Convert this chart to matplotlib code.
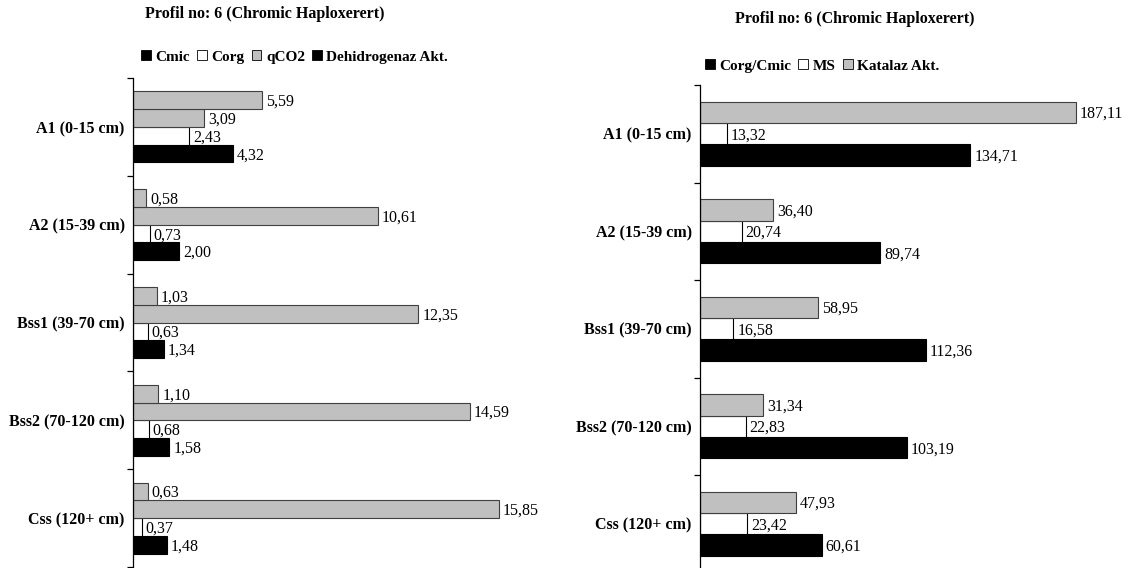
import matplotlib
matplotlib.use("Agg")
import matplotlib.pyplot as plt
from matplotlib.patches import Patch
import numpy as np

plt.rcParams['font.family'] = ['Liberation Serif', 'DejaVu Serif']

horizons = ["A1 (0-15 cm)", "A2 (15-39 cm)", "Bss1 (39-70 cm)",
            "Bss2 (70-120 cm)", "Css (120+ cm)"]

# Left panel series (drawn bottom-up within each horizon)
cmic = [4.32, 2.00, 1.34, 1.58, 1.48]
corg = [2.43, 0.73, 0.63, 0.68, 0.37]
qco2 = [3.09, 10.61, 12.35, 14.59, 15.85]
dehidrogenaz = [5.59, 0.58, 1.03, 1.10, 0.63]

# Right panel series
corg_cmic = [134.71, 89.74, 112.36, 103.19, 60.61]
ms = [13.32, 20.74, 16.58, 22.83, 23.42]
katalaz = [187.11, 36.40, 58.95, 31.34, 47.93]

title = "Profil no: 6 (Chromic Haploxerert)"
GRAY = "#c0c0c0"

W, H = 1131, 568
fig = plt.figure(figsize=(W / 100, H / 100), dpi=100)


def fmt(v):
    return f"{v:.2f}".replace(".", ",")


def panel(rect, xmax, series, colors, bar_h):
    ax = fig.add_axes(rect)
    n = len(horizons)
    ax.set_ylim(n, 0)
    ax.set_xlim(0, xmax)
    k = len(series)
    # series[0] is drawn at the bottom of each group
    for i, (vals, col) in enumerate(zip(series, colors)):
        offs = (k - 1) / 2 - i
        ys = np.arange(n) + 0.5 + offs * bar_h
        ax.barh(ys, vals, height=bar_h, color=col,
                edgecolor="#404040" if col == GRAY else "black",
                linewidth=0.8)
        for y, v in zip(ys, vals):
            ax.annotate(fmt(v), (v, y), xytext=(2.8, -1.2),
                        textcoords="offset points", va="center", ha="left",
                        fontsize=11.5, annotation_clip=False)
    for s in ["top", "right", "bottom"]:
        ax.spines[s].set_visible(False)
    ax.spines["left"].set_linewidth(0.9)
    ax.set_xticks([])
    ax.set_yticks(np.arange(n + 1))
    ax.set_yticklabels([])
    ax.tick_params(axis="y", which="major", length=4, width=0.9, direction="out")
    ax.set_yticks(np.arange(n) + 0.5, minor=True)
    ax.set_yticklabels(horizons, minor=True, fontweight="bold", fontsize=11.5)
    ax.tick_params(axis="y", which="minor", length=0, pad=6)
    return ax


axL = panel([133 / W, 1 / H, 369.6 / W, 489 / H], 16,
            [cmic, corg, qco2, dehidrogenaz],
            ["black", "white", GRAY, GRAY], 0.1815)
axR = panel([700 / W, -4.5 / H, 401.6 / W, 487.5 / H], 200,
            [corg_cmic, ms, katalaz],
            ["black", "white", GRAY], 0.22)

fig.text(145 / W, 1 - 14 / H, title, fontweight="bold", fontsize=11.5,
         va="center", ha="left")
fig.text(735 / W, 1 - 19 / H, title, fontweight="bold", fontsize=11.5,
         va="center", ha="left")


def key(c):
    return Patch(facecolor=c, edgecolor="black", linewidth=0.6)


legL = fig.legend([key("black"), key("white"), key(GRAY), key("black")],
                  ["Cmic", "Corg", "qCO2", "Dehidrogenaz Akt."],
                  loc="center left", bbox_to_anchor=(141 / W, 1 - 57 / H),
                  ncol=4, frameon=False, handlelength=0.65, handleheight=0.65,
                  handletextpad=0.3, columnspacing=0.45, borderpad=0,
                  borderaxespad=0,
                  prop={"weight": "bold", "size": 11})
legR = fig.legend([key("black"), key("white"), key(GRAY)],
                  ["Corg/Cmic", "MS", "Katalaz Akt."],
                  loc="center left", bbox_to_anchor=(705 / W, 1 - 66 / H),
                  ncol=3, frameon=False, handlelength=0.65, handleheight=0.65,
                  handletextpad=0.3, columnspacing=0.45, borderpad=0,
                  borderaxespad=0,
                  prop={"weight": "bold", "size": 11})

fig.savefig("out.png", dpi=100)
